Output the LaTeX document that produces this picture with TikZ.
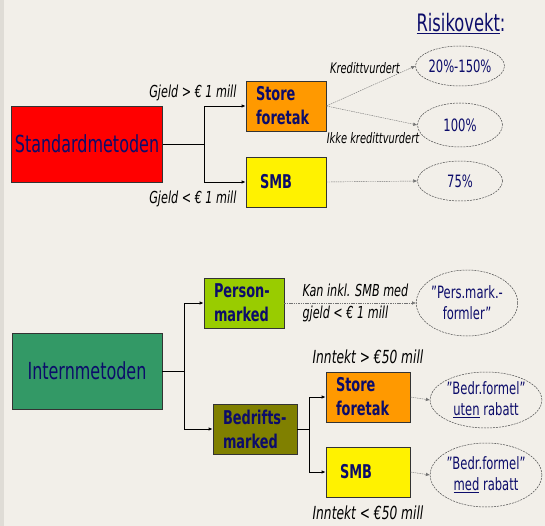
\documentclass[tikz,border=0pt]{standalone}
\usepackage{fontspec}
\setmainfont[FakeStretch=0.68]{DejaVu Sans}
\usetikzlibrary{arrows.meta,shapes.geometric}

\definecolor{ink}{HTML}{0C0C6A}
\definecolor{paper}{HTML}{F2EFE9}
\definecolor{lime}{HTML}{99CC00}
\definecolor{olivebox}{HTML}{808000}
\definecolor{greenbox}{HTML}{339966}
\definecolor{orangebox}{HTML}{FF9900}

\begin{document}
\begin{tikzpicture}[x=1pt, y=-1pt,
    box/.style={draw=black!80, line width=0.8pt, minimum width=80pt, minimum height=50pt,
        text width=60pt, inner xsep=10pt, inner ysep=2pt,
        text=ink, font=\bfseries\fontsize{19}{24}\selectfont, align=left},
    wide/.style={minimum width=84pt, text width=64pt},
    method/.style={draw=black!80, line width=0.8pt, minimum width=150pt, minimum height=76pt,
        text=ink, font=\fontsize{23.5}{26}\selectfont},
    weight/.style={ellipse, draw=black!70, line width=0.5pt, dash pattern=on 2pt off 1pt,
        minimum width=85pt, minimum height=40pt,
        inner sep=0pt, text=ink, font=\fontsize{17}{21}\selectfont, align=center},
    link/.style={draw, line width=0.8pt, -{Latex[length=4pt,width=3.5pt]}},
    soft/.style={draw=black!55, thin, dash pattern=on 1.5pt off 0.8pt, -{Latex[length=4pt,width=3.5pt]}},
    cond/.style={font=\itshape\fontsize{16.5}{22}\selectfont}]

    \fill[paper] (0,0) rectangle (545,526);
    \fill[paper!92!black] (0,0) rectangle (4,526);
    \useasboundingbox (0,0) rectangle (545,526);

    \node[text=ink, font=\fontsize{24}{26}\selectfont] (head) at (461,24) {\underline{Risikovekt}:};

    % standardmetoden
    \node[method, fill=red] (std) at (87,144) {Standardmetoden};
    \node[box, fill=orangebox] (store1) at (286,106) {Store\\foretak};
    \node[box, fill=yellow] (smb1) at (286,182) {\hspace{4pt}SMB};

    \node[weight] (w1) at (460,66) {20\%-150\%};
    \node[weight, minimum height=44pt] (w2) at (460,125) {100\%};
    \node[weight] (w3) at (460,181) {75\%};

    \draw[line width=0.8pt] (std.east) -- ++(42,0) coordinate (sfork);
    \draw[link] (sfork) |- (store1);
    \draw[link] (sfork) |- (smb1);
    \node[cond, anchor=east] at (240,93) {Gjeld > € 1 mill};
    \node[cond, anchor=east] at (240,199) {Gjeld < € 1 mill};

    \draw[soft] (store1.east) -- (w1.west);
    \draw[soft] (store1.east) -- (w2.west);
    \draw[soft] (smb1.east) -- (w3.west);
    \node[cond, font=\itshape\fontsize{14.5}{16}\selectfont] at (365,68) {Kredittvurdert};
    \node[cond, font=\itshape\fontsize{14.5}{16}\selectfont] at (373,138) {Ikke kredittvurdert};

    % internmetoden
    \node[method, fill=greenbox] (irb) at (87,371) {Internmetoden};
    \node[box, fill=lime] (pers) at (244,303) {Person-\\marked};
    \node[box, wide, fill=olivebox] (bedr) at (255,429) {Bedrifts-\\marked};
    \node[box, wide, fill=orangebox] (store2) at (368,397) {Store\\foretak};
    \node[box, wide, fill=yellow] (smb2) at (368,472) {\hspace{4pt}SMB};

    \node[weight, minimum width=90pt, minimum height=66pt] (w4) at (467,303) {"Pers.mark.-\\formler"};
    \node[weight, minimum width=92pt, minimum height=56pt] (w5) at (486,400) {"Bedr.formel"\\\underline{uten} rabatt};
    \node[weight, minimum width=92pt, minimum height=64pt] (w6) at (486,475) {"Bedr.formel"\\\underline{med} rabatt};

    \draw[line width=0.8pt] (irb.east) -- ++(22,0) coordinate (ifork);
    \draw[link] (ifork) |- (pers);
    \draw[link] (ifork) |- (bedr);
    \draw[line width=0.8pt] (bedr.east) -- ++(12,0) coordinate (bfork);
    \draw[link] (bfork) |- (store2);
    \draw[link] (bfork) |- (smb2);

    \draw[soft] (pers.east) -- (w4.west);
    \draw[soft] (store2.east) -- (w5.west);
    \draw[soft] (smb2.east) -- (w6.west);
    \node[cond, anchor=west, align=left] at (299,303) {Kan inkl. SMB med\\gjeld < € 1 mill};
    \node[cond, font=\itshape\fontsize{18}{20}\selectfont] at (368,357) {Inntekt > €50 mill};
    \node[cond, font=\itshape\fontsize{18}{20}\selectfont] at (368,513) {Inntekt < €50 mill};
\end{tikzpicture}
\end{document}
